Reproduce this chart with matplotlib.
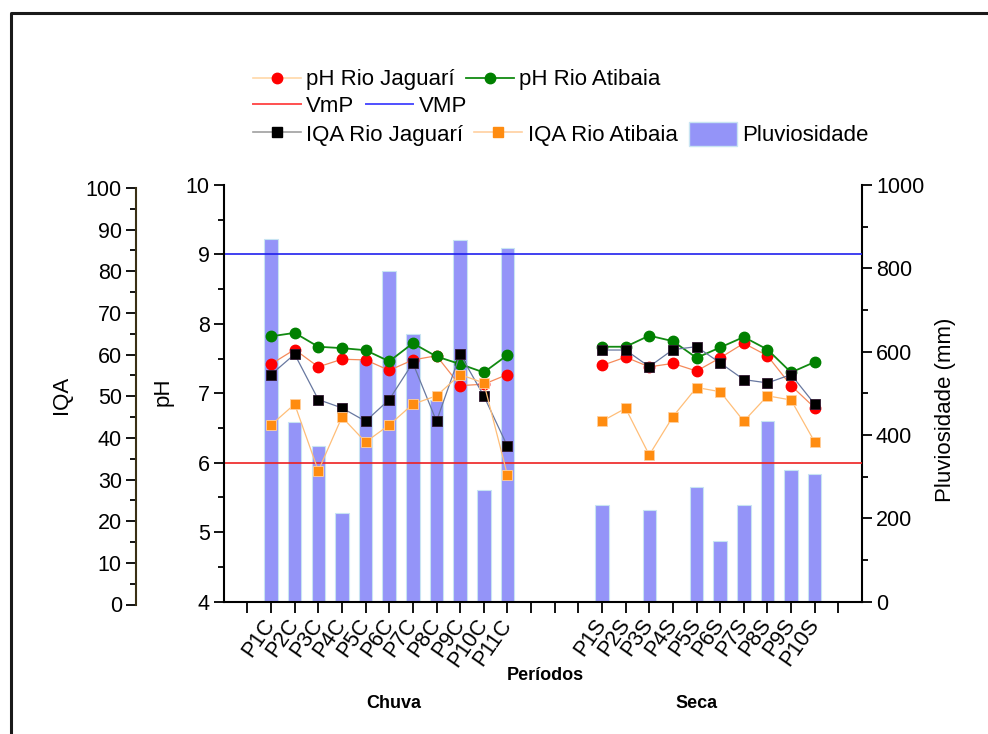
import numpy as np
import matplotlib
matplotlib.use("Agg")
import matplotlib.pyplot as plt
from matplotlib.lines import Line2D
from matplotlib.patches import Patch

plt.rcParams['font.family'] = ['Liberation Sans', 'DejaVu Sans']

# rainy season (Chuva) points
chuva_lbl = ['P1C', 'P2C', 'P3C', 'P4C', 'P5C', 'P6C', 'P7C', 'P8C', 'P9C', 'P10C', 'P11C']
ph_jag_c = [7.42, 7.63, 7.38, 7.49, 7.48, 7.33, 7.48, 7.54, 7.11, 7.13, 7.27]
ph_ati_c = [7.82, 7.87, 7.67, 7.65, 7.62, 7.46, 7.72, 7.53, 7.42, 7.30, 7.55]
iqa_jag_c = [55.2, 60.1, 49.2, 47.2, 44.0, 49.2, 58.0, 44.0, 60.1, 50.1, 38.0]
iqa_ati_c = [43.1, 48.1, 32.1, 45.0, 39.0, 43.1, 48.1, 50.1, 55.2, 53.2, 31.1]
chuva_mm = [871, 432, 373, 213, 579, 794, 642, 483, 868, 267, 848]

# dry season (Seca) points
seca_lbl = ['P1S', 'P2S', 'P3S', 'P4S', 'P5S', 'P6S', 'P7S', 'P8S', 'P9S', 'P10S']
ph_jag_s = [7.40, 7.52, 7.38, 7.43, 7.32, 7.51, 7.72, 7.54, 7.11, 6.79]
ph_ati_s = [7.67, 7.67, 7.83, 7.75, 7.51, 7.66, 7.81, 7.63, 7.30, 7.45]
iqa_jag_s = [61.1, 61.1, 57.1, 61.2, 61.9, 58.0, 54.0, 53.2, 55.2, 48.1]
iqa_ati_s = [44.0, 47.1, 35.9, 45.1, 52.1, 51.1, 44.0, 50.1, 49.1, 39.0]
seca_mm = [232, np.nan, 220, np.nan, 274, 146, 231, 433, 315, 307]

vmp_min, vmp_max = 6, 9

# slot layout on the category axis: empty slot, 11 rainy, 3 empty, 10 dry, empty slot
x_c = np.arange(1, 1 + len(chuva_lbl))
x_s = np.arange(15, 15 + len(seca_lbl))
n_slots = 26
tick_lbl = [''] * n_slots
for i, s in zip(x_c, chuva_lbl):
    tick_lbl[i] = s
for i, s in zip(x_s, seca_lbl):
    tick_lbl[i] = s

W, H = 988, 734
fig = plt.figure(figsize=(W / 100, H / 100), dpi=100)

L, R, T, B = 223.75, 862, 185, 601.5
rect = [L / W, 1 - B / H, (R - L) / W, (B - T) / H]

bar_c = '#9494f8'
tick_fs = 15.5

# rainfall bars (bottom layer, right axis)
ax_pl = fig.add_axes(rect)
x_all = np.concatenate([x_c, x_s])
mm_all = np.array(chuva_mm + seca_mm, dtype=float)
ok = ~np.isnan(mm_all)
ax_pl.bar(x_all[ok], mm_all[ok], width=0.57, color=bar_c, edgecolor='#c8e4f2', linewidth=0.8)
ax_pl.set_ylim(0, 1000)
ax_pl.set_xlim(-1, 26)

# pH (left inner axis)
ax_ph = ax_pl.twinx()
ax_pl.yaxis.tick_right()
ax_ph.yaxis.tick_left()

ax_pl.set_yticks(np.arange(0, 1001, 200))
ax_pl.set_yticks(np.arange(100, 1000, 200), minor=True)
ax_pl.set_xticks(np.arange(n_slots))
ax_pl.set_xticklabels(tick_lbl, rotation=55, ha='right', va='center',
                      rotation_mode='anchor', fontsize=tick_fs)
ax_pl.tick_params(axis='x', direction='out', length=8, width=1.3, pad=6)
ax_pl.tick_params(axis='y', which='major', direction='out', length=7, width=1.3, labelsize=tick_fs, pad=3)
ax_pl.tick_params(axis='y', which='minor', direction='out', length=4, width=1.3)
ax_pl.spines['top'].set_visible(False)
ax_pl.spines['left'].set_visible(False)
for s in ('bottom', 'right'):
    ax_pl.spines[s].set_linewidth(1.5)

ax_ph.patch.set_visible(False)
ax_ph.set_ylim(4, 10)
ax_ph.set_yticks(np.arange(4, 11, 1))
ax_ph.set_yticks(np.arange(4.5, 10, 1), minor=True)
ax_ph.tick_params(axis='y', which='major', direction='out', length=7, width=1.3, labelsize=tick_fs, pad=3)
ax_ph.tick_params(axis='y', which='minor', direction='out', length=4, width=1.3)
ax_ph.spines['top'].set_visible(False)
ax_ph.spines['right'].set_visible(False)
ax_ph.spines['bottom'].set_visible(False)
ax_ph.spines['left'].set_linewidth(1.5)

ax_ph.axhline(vmp_min, color='#ee2020', lw=1.2)
ax_ph.axhline(vmp_max, color='#2020ee', lw=1.2)

for xx, yy in ((x_c, ph_jag_c), (x_s, ph_jag_s)):
    ax_ph.plot(xx, yy, color='#f58a5a', lw=0.9, marker='o', ms=7.5,
               mfc='red', mec='red', zorder=3)
for xx, yy in ((x_c, ph_ati_c), (x_s, ph_ati_s)):
    ax_ph.plot(xx, yy, color='#118a11', lw=1.3, marker='o', ms=7.5,
               mfc='green', mec='green', zorder=4)

# IQA (outer left axis)
rect_iqa = [rect[0], rect[1] - 3 / H, rect[2], rect[3]]
ax_iqa = fig.add_axes(rect_iqa, sharex=ax_pl)
ax_iqa.patch.set_visible(False)
for s in ('top', 'right', 'bottom'):
    ax_iqa.spines[s].set_visible(False)
ax_iqa.spines['left'].set_position(('outward', 88 * 0.72))
ax_iqa.spines['left'].set_linewidth(1.5)
ax_iqa.spines['left'].set_color('#3a3015')
ax_iqa.set_ylim(0, 100)
ax_iqa.set_yticks(np.arange(0, 101, 10))
ax_iqa.set_yticks(np.arange(5, 100, 10), minor=True)
ax_iqa.tick_params(axis='y', which='major', direction='out', length=7, width=1.3, labelsize=tick_fs, pad=3)
ax_iqa.tick_params(axis='y', which='minor', direction='out', length=4, width=1.3)
ax_iqa.tick_params(axis='x', bottom=False, labelbottom=False)

for xx, yy in ((x_c, iqa_jag_c), (x_s, iqa_jag_s)):
    ax_iqa.plot(xx, yy, color='#6878a0', lw=0.9, marker='s', ms=6.5,
                mfc='black', mec='#301830', mew=0.6)
for xx, yy in ((x_c, iqa_ati_c), (x_s, iqa_ati_s)):
    ax_iqa.plot(xx, yy, color='#ffbe78', lw=0.9, marker='s', ms=6.5,
                mfc='#ff8c10', mec='#ffd0a0', mew=0.6)

# axis titles
fig.text(62 / W, 1 - 395 / H, 'IQA', rotation=90, ha='center', va='center', fontsize=16)
fig.text(163 / W, 1 - 392 / H, 'pH', rotation=90, ha='center', va='center', fontsize=16)
fig.text(945 / W, 1 - 410 / H, 'Pluviosidade (mm)', rotation=90, ha='center', va='center', fontsize=16)
fig.text(545 / W, 1 - 676 / H, 'Períodos', ha='center', va='center', fontsize=13, fontweight='bold')
fig.text(394 / W, 1 - 703 / H, 'Chuva', ha='center', va='center', fontsize=13, fontweight='bold')
fig.text(697 / W, 1 - 703 / H, 'Seca', ha='center', va='center', fontsize=13, fontweight='bold')

# legend, three rows
leg_kw = dict(loc='center left', frameon=False, fontsize=16, borderpad=0,
              handlelength=2.15, handletextpad=0.25, columnspacing=0.5, borderaxespad=0)
row1 = [Line2D([], [], color='#ffd8a8', lw=1.2, marker='o', ms=7.5, mfc='red', mec='red'),
        Line2D([], [], color='#118a11', lw=1.3, marker='o', ms=7.5, mfc='green', mec='green')]
row2 = [Line2D([], [], color='#ff5050', lw=1.4),
        Line2D([], [], color='#5050ff', lw=1.4)]
row3 = [Line2D([], [], color='#a0a0a0', lw=1.2, marker='s', ms=6.5, mfc='black', mec='black'),
        Line2D([], [], color='#ffd0a0', lw=1.2, marker='s', ms=6.5, mfc='#ff8c10', mec='#ff8c10'),
        Patch(facecolor=bar_c, edgecolor='#c8e4f2')]
x0 = 253 / W
fig.legend(row1, ['pH Rio Jaguarí', 'pH Rio Atibaia'], ncol=2,
           bbox_to_anchor=(x0, 1 - 80 / H), **leg_kw)
fig.legend(row2, ['VmP', 'VMP'], ncol=2,
           bbox_to_anchor=(x0, 1 - 106 / H), **leg_kw)
fig.legend(row3, ['IQA Rio Jaguarí', 'IQA Rio Atibaia', 'Pluviosidade'], ncol=3,
           bbox_to_anchor=(x0, 1 - 134 / H), handleheight=1.3, **leg_kw)

# outer frame (left and top edges)
fig.add_artist(Line2D([10.5 / W, 10.5 / W, 1], [0, 1 - 13 / H, 1 - 13 / H],
                      transform=fig.transFigure, color='#1a1a1a', lw=2.2))

fig.savefig('out.png', dpi=100)
